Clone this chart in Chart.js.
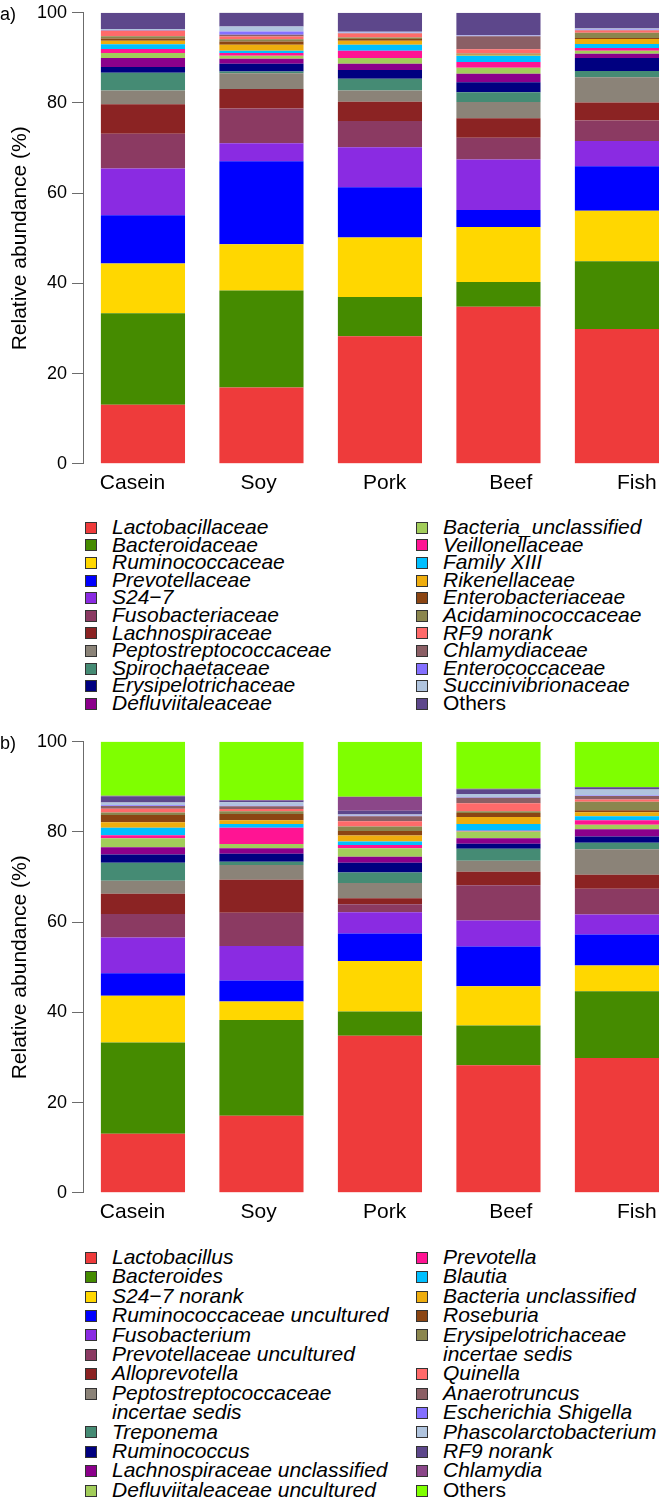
<!DOCTYPE html>
<html>
<head>
<meta charset="utf-8">
<script src="https://cdn.jsdelivr.net/npm/chart.js@4.4.1/dist/chart.umd.min.js"></script>
<style>
  body { margin: 0; background: #fff; font-family: "Liberation Sans", Arial, sans-serif; }
  #page { position: relative; width: 666px; height: 1502px; overflow: hidden; }
  #page canvas { position: absolute; left: 0; }
  #chartA { top: -3px; }
  #chartB { top: 726px; }
  .legend { position: absolute; left: 0; width: 666px; font-size: 21px; color: #000; }
  .legend .col { position: absolute; top: 0; }
  .legend .item { position: relative; padding-left: 27px; font-style: italic; white-space: normal; }
  .legend .item.plain { font-style: normal; }
  .legend .box { position: absolute; left: 0; width: 10px; height: 10px; border: 1px solid #333; }
</style>
</head>
<body>
<div id="page">
  <canvas id="chartA" width="666" height="506"></canvas>
  <div class="legend" id="legendA"></div>
  <canvas id="chartB" width="666" height="506"></canvas>
  <div class="legend" id="legendB"></div>
</div>
<script>
const groups = ['Casein', 'Soy', 'Pork', 'Beef', 'Fish'];
const yTicks = [0, 20, 40, 60, 80, 100];

// a) family level, bottom of the stack first
const familyNames = [
    'Lactobacillaceae', 'Bacteroidaceae', 'Ruminococcaceae', 'Prevotellaceae', 'S24\u22127',
    'Fusobacteriaceae', 'Lachnospiraceae', 'Peptostreptococcaceae', 'Spirochaetaceae',
    'Erysipelotrichaceae', 'Defluviitaleaceae', 'Bacteria_unclassified', 'Veillonellaceae',
    'Family XIII', 'Rikenellaceae', 'Enterobacteriaceae', 'Acidaminococcaceae', 'RF9 norank',
    'Chlamydiaceae', 'Enterococcaceae', 'Succinivibrionaceae', 'Others'
];
const familyColors = [
    '#EE3B3B', '#458B00', '#FFD700', '#0000FF', '#8A2BE2', '#8B3A62', '#8B2323', '#8B8378',
    '#458B74', '#000080', '#8B008B', '#A2CD5A', '#FF1493', '#00BFFF', '#EEAD0E', '#8B4513',
    '#8B864E', '#FF6A6A', '#8B5F65', '#8470FF', '#B0C4DE', '#5D478B'
];
const familyValues = [
    [13.1, 16.9, 28.3, 34.8, 29.9],
    [20.3, 21.5, 8.7, 5.5, 15.0],
    [11.0, 10.3, 13.2, 12.2, 11.2],
    [10.7, 18.4, 11.1, 3.8, 9.9],
    [10.4, 4.0, 8.9, 11.2, 5.6],
    [7.7, 7.7, 5.8, 4.8, 4.5],
    [6.5, 4.3, 4.3, 4.3, 4.0],
    [3.05, 3.5, 2.45, 3.6, 5.6],
    [3.95, 0.4, 2.65, 2.2, 1.4],
    [1.3, 1.7, 1.9, 2.2, 2.9],
    [2.0, 1.1, 1.4, 1.9, 0.9],
    [1.1, 0.7, 1.3, 1.3, 0.7],
    [0.9, 0.6, 1.6, 1.3, 0.6],
    [1.0, 0.5, 1.3, 1.4, 0.9],
    [0.8, 1.3, 0.9, 0.2, 1.1],
    [0.5, 0.75, 0.4, 0.1, 0.2],
    [0.5, 0.5, 0.3, 0.2, 1.2],
    [1.2, 0.6, 0.9, 0.9, 0.5],
    [0.1, 0.4, 0.1, 2.9, 0.1],
    [0.1, 0.7, 0.1, 0.1, 0.1],
    [0.2, 1.1, 0.2, 0.1, 0.2],
    [3.6, 3.1, 4.2, 5.0, 3.5]
];

// b) genus level
const genusNames = [
    'Lactobacillus', 'Bacteroides', 'S24\u22127 norank', 'Ruminococcaceae uncultured', 'Fusobacterium',
    'Prevotellaceae uncultured', 'Alloprevotella', 'Peptostreptococcaceae incertae sedis', 'Treponema',
    'Ruminococcus', 'Lachnospiraceae unclassified', 'Defluviitaleaceae uncultured', 'Prevotella',
    'Blautia', 'Bacteria unclassified', 'Roseburia', 'Erysipelotrichaceae incertae sedis', 'Quinella',
    'Anaerotruncus', 'Escherichia Shigella', 'Phascolarctobacterium', 'RF9 norank', 'Chlamydia', 'Others'
];
const genusColors = [
    '#EE3B3B', '#458B00', '#FFD700', '#0000FF', '#8A2BE2', '#8B3A62', '#8B2323', '#8B8378',
    '#458B74', '#000080', '#8B008B', '#A2CD5A', '#FF1493', '#00BFFF', '#EEAD0E', '#8B4513',
    '#8B864E', '#FF6A6A', '#8B5F65', '#8470FF', '#B0C4DE', '#5D478B', '#8B4789', '#7FFF00'
];
const genusValues = [
    [13.1, 17.1, 34.8, 28.3, 29.9],
    [20.2, 21.2, 5.4, 8.8, 14.8],
    [10.4, 4.1, 11.2, 8.7, 5.7],
    [5.0, 4.7, 6.1, 8.8, 6.9],
    [7.9, 7.6, 4.7, 5.8, 4.4],
    [5.2, 7.4, 1.8, 7.8, 5.7],
    [4.5, 7.3, 1.3, 3.0, 3.1],
    [2.9, 3.3, 3.4, 2.4, 5.7],
    [4.0, 0.7, 2.3, 2.7, 1.4],
    [1.8, 1.8, 2.2, 1.1, 1.4],
    [1.6, 1.2, 1.3, 1.2, 1.6],
    [2.0, 0.95, 1.9, 1.5, 1.0],
    [0.7, 3.6, 0.7, 0.2, 1.0],
    [1.65, 0.85, 0.8, 1.5, 0.9],
    [1.2, 0.8, 1.3, 1.5, 0.9],
    [1.6, 1.4, 1.0, 0.9, 0.4],
    [0.6, 0.6, 1.0, 0.4, 1.9],
    [0.8, 0.5, 1.2, 1.8, 0.5],
    [0.6, 0.6, 1.1, 1.2, 0.8],
    [0.2, 0.1, 0.1, 0.1, 0.1],
    [0.6, 0.8, 0.3, 0.7, 1.3],
    [1.4, 0.4, 0.8, 1.1, 0.5],
    [0.1, 0.1, 3.1, 0.1, 0.1],
    [12.0, 12.9, 12.2, 10.4, 10.0]
];

Chart.defaults.font.family = '"Liberation Sans", Arial, sans-serif';
Chart.defaults.color = '#000';

// writes "a)" / "b)" next to the top tick
const panelLetter = {
    id: 'panelLetter',
    afterDraw(chart, args, opts) {
        const ctx = chart.ctx;
        ctx.save();
        ctx.font = '18px "Liberation Sans", Arial, sans-serif';
        ctx.fillStyle = '#000';
        ctx.textBaseline = 'middle';
        ctx.fillText(opts.text, 0, chart.chartArea.top + 2);
        ctx.restore();
    }
};

function buildLegend(chart, id, top, leftCount, lineHeight) {
    const el = document.getElementById(id);
    el.style.top = top + 'px';
    const cols = [
        { left: 85, width: 325, items: chart.data.datasets.slice(0, leftCount) },
        { left: 416, width: 250, items: chart.data.datasets.slice(leftCount) }
    ];
    cols.forEach(c => {
        const col = document.createElement('div');
        col.className = 'col';
        col.style.left = c.left + 'px';
        col.style.width = c.width + 'px';
        c.items.forEach(ds => {
            const item = document.createElement('div');
            item.className = ds.label === 'Others' ? 'item plain' : 'item';
            item.style.lineHeight = lineHeight + 'px';
            const box = document.createElement('span');
            box.className = 'box';
            box.style.background = ds.backgroundColor;
            box.style.top = ((lineHeight - 12) / 2 + 1) + 'px';
            item.appendChild(box);
            item.appendChild(document.createTextNode(ds.label));
            col.appendChild(item);
        });
        el.appendChild(col);
    });
}

function makePanel(canvasId, legendId, letter, names, colors, values, legendTop, leftCount, lineHeight) {
    const ctx = document.getElementById(canvasId);
    const chart = new Chart(ctx, {
        type: 'bar',
        data: {
            datasets: names.map((name, k) => ({
                label: name,
                data: values[k].map((v, i) => ({ x: i, y: v })),
                backgroundColor: colors[k],
                borderWidth: 0,
                categoryPercentage: 1,
                barPercentage: 0.71
            }))
        },
        options: {
            responsive: false,
            animation: false,
            layout: { padding: 0 },
            plugins: {
                legend: { display: false },
                tooltip: { enabled: false },
                panelLetter: { text: letter }
            },
            scales: {
                x: {
                    type: 'linear',
                    stacked: true,
                    offset: false,
                    min: -0.506,
                    max: 4.414,
                    // the group names sit a little wider apart than the bars
                    afterBuildTicks: scale => {
                        scale.ticks = groups.map((g, i) => ({ value: 2.04 + (i - 2) * 1.064 }));
                    },
                    grid: { display: false, drawTicks: false, offset: false },
                    border: { display: false },
                    ticks: {
                        callback: (v, i) => groups[i],
                        font: { size: 21 },
                        padding: 7,
                        maxRotation: 0,
                        autoSkip: false
                    }
                },
                y: {
                    stacked: true,
                    min: 0,
                    max: 100,
                    afterBuildTicks: scale => { scale.ticks = yTicks.map(v => ({ value: v })); },
                    afterFit: scale => { scale.width = 83; },
                    grid: { drawOnChartArea: false, drawTicks: true, tickLength: 11, color: '#6b6b6b' },
                    border: { display: true, color: '#6b6b6b' },
                    ticks: { font: { size: 18 }, padding: 5 },
                    title: {
                        display: true,
                        text: 'Relative abundance (%)',
                        font: { size: 21 },
                        padding: { top: 8, bottom: 0 }
                    }
                }
            }
        },
        plugins: [panelLetter]
    });
    buildLegend(chart, legendId, legendTop, leftCount, lineHeight);
    return chart;
}

makePanel('chartA', 'legendA', 'a)', familyNames, familyColors, familyValues, 518, 11, 17.6);
makePanel('chartB', 'legendB', 'b)', genusNames, genusColors, genusValues, 1247, 12, 19.4);
</script>
</body>
</html>
